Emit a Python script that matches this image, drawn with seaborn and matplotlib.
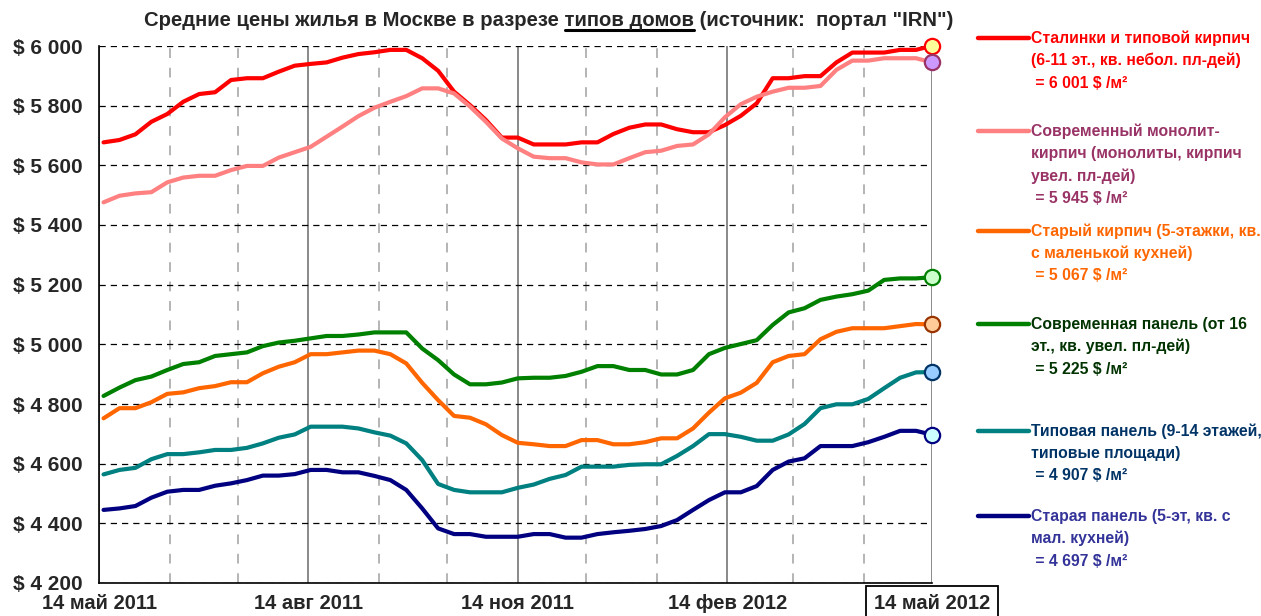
import pandas as pd
import matplotlib
matplotlib.use("Agg")
import matplotlib.pyplot as plt
import matplotlib.dates as mdates
from matplotlib.ticker import FuncFormatter, MultipleLocator
from matplotlib.lines import Line2D
import seaborn as sns

sns.set_style("white")
plt.rcParams['font.family'] = ['Liberation Sans', 'DejaVu Sans']

# weekly observations, May 2011 - May 2012 ($ per m2)
dates = pd.date_range("2011-05-16", "2012-05-14", freq="7D")

stalinki = [5677, 5685, 5704, 5746, 5772, 5813, 5839, 5845, 5886, 5892, 5892, 5914, 5934, 5940,
            5945, 5961, 5973, 5979, 5987, 5987, 5959, 5917, 5847, 5802, 5752, 5693, 5693, 5670,
            5670, 5670, 5677, 5677, 5705, 5726, 5737, 5737, 5721, 5711, 5711, 5735, 5766, 5808,
            5892, 5892, 5899, 5899, 5945, 5978, 5978, 5978, 5987, 5987, 6001]
monolit = [5476, 5498, 5506, 5510, 5543, 5559, 5565, 5565, 5584, 5598, 5598, 5626, 5644, 5662,
           5696, 5730, 5765, 5793, 5813, 5832, 5858, 5858, 5841, 5797, 5746, 5690, 5657, 5629,
           5624, 5624, 5610, 5603, 5603, 5624, 5644, 5649, 5665, 5670, 5704, 5761, 5805, 5830,
           5847, 5860, 5860, 5866, 5920, 5951, 5951, 5959, 5959, 5959, 5945]
old_brick = [4752, 4786, 4786, 4806, 4834, 4839, 4853, 4860, 4873, 4873, 4903, 4925, 4940, 4967,
             4967, 4973, 4979, 4979, 4967, 4936, 4871, 4813, 4760, 4754, 4732, 4696, 4670, 4665,
             4659, 4659, 4679, 4679, 4665, 4665, 4672, 4685, 4685, 4718, 4771, 4819, 4838, 4871,
             4940, 4961, 4967, 5017, 5042, 5054, 5054, 5054, 5061, 5068, 5067]
modern_panel = [4827, 4855, 4880, 4892, 4914, 4934, 4940, 4961, 4967, 4973, 4994, 5006, 5012, 5020,
                5028, 5028, 5033, 5040, 5040, 5040, 4986, 4947, 4899, 4866, 4866, 4872, 4886, 4888,
                4888, 4894, 4908, 4927, 4927, 4914, 4914, 4899, 4899, 4914, 4967, 4988, 5001, 5014,
                5065, 5107, 5121, 5149, 5160, 5168, 5180, 5216, 5221, 5221, 5225]
typical_panel = [4564, 4579, 4586, 4615, 4632, 4632, 4638, 4646, 4646, 4653, 4668, 4687, 4698, 4724,
                 4724, 4724, 4718, 4705, 4694, 4668, 4612, 4532, 4512, 4504, 4504, 4504, 4519, 4530,
                 4549, 4562, 4590, 4590, 4590, 4596, 4598, 4598, 4626, 4659, 4699, 4699, 4690, 4677,
                 4677, 4698, 4733, 4786, 4799, 4799, 4817, 4853, 4888, 4906, 4907]
old_panel = [4445, 4450, 4458, 4486, 4506, 4512, 4512, 4526, 4534, 4545, 4560, 4560, 4565, 4579,
             4579, 4571, 4571, 4559, 4545, 4512, 4450, 4383, 4364, 4364, 4355, 4355, 4355, 4364,
             4364, 4352, 4352, 4364, 4370, 4375, 4381, 4391, 4411, 4445, 4478, 4504, 4504, 4525,
             4579, 4607, 4618, 4659, 4659, 4659, 4672, 4690, 4710, 4710, 4697]

series_names = ["Сталинки", "Монолит", "Старый кирпич", "Совр. панель", "Типовая панель", "Старая панель"]
series_values = [stalinki, monolit, old_brick, modern_panel, typical_panel, old_panel]
line_colors = ["#FF0000", "#FF8080", "#FF6600", "#008000", "#008080", "#000080"]
marker_faces = ["#FFFF99", "#CC99FF", "#FFCC99", "#CCFFCC", "#99CCFF", "#CCFFFF"]
marker_edges = ["#FF0000", "#993366", "#993300", "#008000", "#003366", "#000080"]

legend_lines = [
    ["Сталинки и типовой кирпич", "(6-11 эт., кв. небол. пл-дей)", " = 6 001 $ /м²"],
    ["Современный монолит-", "кирпич (монолиты, кирпич", "увел. пл-дей)", " = 5 945 $ /м²"],
    ["Старый кирпич (5-этажки, кв.", "с маленькой кухней)", " = 5 067 $ /м²"],
    ["Современная панель (от 16", "эт., кв. увел. пл-дей)", " = 5 225 $ /м²"],
    ["Типовая панель (9-14 этажей,", "типовые площади)", " = 4 907 $ /м²"],
    ["Старая панель (5-эт, кв. с", "мал. кухней)", " = 4 697 $ /м²"],
]
legend_text_colors = ["#FF0000", "#993366", "#FF6600", "#003300", "#003366", "#333399"]
legend_y_px = [38, 131, 231, 324, 431, 516]

month_ru = ["янв", "фев", "мар", "апр", "май", "июн", "июл", "авг", "сен", "окт", "ноя", "дек"]

df = pd.DataFrame({
    "date": list(dates) * len(series_names),
    "price": sum(series_values, []),
    "type": [n for n in series_names for _ in dates],
})

W, H = 1261, 616
fig = plt.figure(figsize=(W / 100, H / 100), dpi=100)
ax = fig.add_axes([99 / W, 1 - 583 / H, (932 - 99) / W, (583 - 46) / H])

sns.lineplot(data=df, x="date", y="price", hue="type", hue_order=series_names,
             palette=line_colors, linewidth=3, legend=False, ax=ax, zorder=5)

for vals, fc, ec in zip(series_values, marker_faces, marker_edges):
    ax.plot(dates[-1], vals[-1], marker="o", markersize=11, markerfacecolor=fc,
            markeredgecolor=ec, markeredgewidth=1.6, clip_on=False, zorder=10)

ax.set_xlim(pd.Timestamp("2011-05-14"), pd.Timestamp("2012-05-14"))
ax.set_ylim(4200, 6000)
ax.xaxis.set_major_locator(mdates.MonthLocator(bymonth=[2, 5, 8, 11], bymonthday=14))
ax.xaxis.set_minor_locator(mdates.MonthLocator(bymonthday=14))
ax.xaxis.set_major_formatter(FuncFormatter(
    lambda v, p: "14 %s %d" % (month_ru[mdates.num2date(v).month - 1], mdates.num2date(v).year)))
ax.yaxis.set_major_locator(MultipleLocator(200))
ax.yaxis.set_major_formatter(FuncFormatter(lambda v, p: "$ %d %03d" % (int(v) // 1000, int(v) % 1000)))

ax.grid(axis="y", which="major", color="black", linestyle=(0, (5, 4)), linewidth=0.9)
ax.grid(axis="x", which="major", color="#808080", linestyle="-", linewidth=1.3)
ax.grid(axis="x", which="minor", color="#B4B4B4", linestyle=(0, (5, 5)), linewidth=1.4)
ax.set_axisbelow(True)

for s in ["top", "right"]:
    ax.spines[s].set_visible(False)
for s in ["left", "bottom"]:
    ax.spines[s].set_color("black")
    ax.spines[s].set_linewidth(1.2)

ax.tick_params(axis="y", which="major", length=7, width=1, color="black", direction="out", pad=5)
ax.tick_params(axis="x", which="both", length=0, pad=8)
for lab in ax.get_yticklabels():
    lab.set_fontweight("bold")
    lab.set_fontsize(15)
for lab in ax.get_xticklabels():
    lab.set_fontweight("bold")
    lab.set_fontsize(14.5)
ax.set_xlabel("")
ax.set_ylabel("")

fig.canvas.draw()
xl = ax.get_xticklabels()[-1]
xl.set_bbox(dict(facecolor="white", edgecolor="black", boxstyle="square,pad=0.4", linewidth=1.3))

# title with underlined part
p1 = "Средние цены жилья в Москве в разрезе"
p2 = "типов домов"
full = p1 + " " + p2 + " (источник:  портал \"IRN\")"
tkw = dict(fontweight="bold", fontsize=14.6)
title = fig.text(549 / W, 1 - 20 / H, full, ha="center", va="center", **tkw)
r = fig.canvas.get_renderer()
tb = title.get_window_extent(r)


def text_w(s):
    t = fig.text(0, 0, s, **tkw)
    w = t.get_window_extent(r).width
    t.remove()
    return w


space_w = text_w("a a") - text_w("aa")
u0 = tb.x0 + text_w(p1) + space_w
u1 = u0 + text_w(p2)
uy = tb.y0 - 0.5
fig.add_artist(Line2D([u0 / W, u1 / W], [uy / H, uy / H], transform=fig.transFigure,
                      color="black", linewidth=2.2))

# legend block on the right
for lines, col, tcol, ypx in zip(legend_lines, line_colors, legend_text_colors, legend_y_px):
    fig.add_artist(Line2D([978 / W, 1029 / W], [1 - ypx / H] * 2, transform=fig.transFigure,
                          color=col, linewidth=3.2))
    for k, s in enumerate(lines):
        fig.text(1031 / W, 1 - (ypx + 22.5 * k) / H, s, ha="left", va="center",
                 color=tcol, fontsize=11.3, fontweight="bold")

fig.savefig("out.png", dpi=100)
